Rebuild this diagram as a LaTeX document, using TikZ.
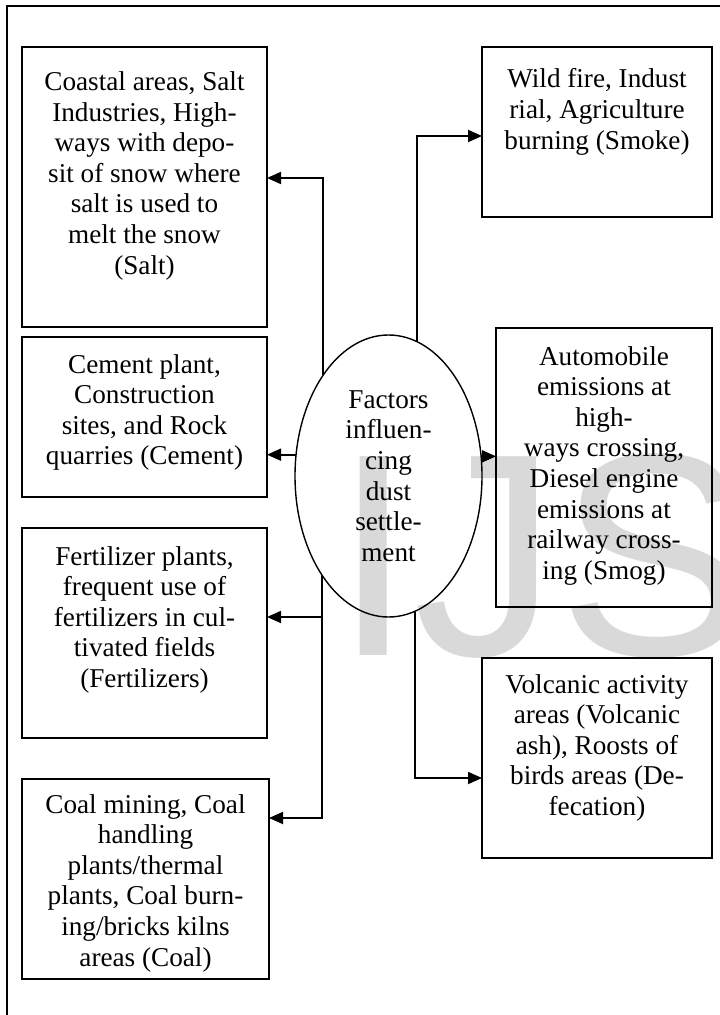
\documentclass[tikz,border=0pt]{standalone}
\usepackage{fontspec}
\setmainfont{Liberation Serif}
\newfontfamily\wmfont{Liberation Sans}
\usetikzlibrary{arrows.meta,shapes.geometric,calc}
\newcommand{\bx}[4]{\parbox[c][#2pt][t]{#1pt}{\centering\rule{0pt}{#3pt}#4}}
\tikzset{
  boxnode/.style={draw, line width=0.9pt, inner sep=0pt, outer sep=0pt},
  conn/.style={line width=0.9pt, -{Triangle[length=7pt,width=6pt]}},
  ellnode/.style={draw, ellipse, line width=0.7pt, inner sep=0pt, outer sep=0pt,
    minimum width=93.5pt, minimum height=141pt, align=center},
}
\begin{document}
\begin{tikzpicture}[x=0.5pt,y=-0.5pt]
\useasboundingbox (0,0) rectangle (719,1015);
\fontsize{13.6}{15.3}\selectfont
% watermark
\begin{scope}
\clip (0,0) rectangle (719,1015);
\node[anchor=base west, inner sep=0pt, text=black!15, font=\wmfont\fontsize{144.5}{150}\selectfont] (wm) at (333,655) {IJS};
\end{scope}
% outer frame
\draw[line width=1pt] (7,1020) -- (7,6) -- (725,6);
% boxes
\node[boxnode] (salt) at (144.5,187) {\bx{122.5}{140}{21.8}{Coastal areas, Salt\\Industries, High-\\ways with depo-\\sit of snow where\\salt is used to\\melt the snow\\(Salt)}};
\node[boxnode] (cement) at (144.5,417) {\bx{122.5}{80}{18}{Cement plant,\\Construction\\sites, and Rock\\quarries (Cement)}};
\node[boxnode] (fert) at (144.5,633) {\bx{122.5}{105}{18.5}{Fertilizer plants,\\frequent use of\\fertilizers in cul-\\tivated fields\\(Fertilizers)}};
\node[boxnode] (coal) at (145.5,879) {\bx{123.5}{100}{17}{Coal mining, Coal\\handling\\plants/thermal\\plants, Coal burn-\\ing/bricks kilns\\areas (Coal)}};
\node[boxnode] (smoke) at (597,132) {\bx{115}{85}{20.5}{Wild fire, Indust\\rial, Agriculture\\burning (Smoke)}};
\node[boxnode] (smog) at (604,467.5) {\bx{108}{139.5}{18.5}{Automobile\\emissions at\\high-\\ways crossing,\\Diesel engine\\emissions at\\railway cross-\\ing (Smog)}};
\node[boxnode] (volc) at (597,758) {\bx{115}{100}{17.5}{Volcanic activity\\areas (Volcanic\\ash), Roosts of\\birds areas (De-\\fecation)}};
% ellipse
\node[ellnode] (e) at (388.5,476) {Factors\\influen-\\cing\\dust\\settle-\\ment};
% connectors
\coordinate (sa) at ($(salt.east)+(0,-9)$);
\coordinate (fa) at ($(fert.east)+(0,-16)$);
\coordinate (ca) at ($(coal.east)+(0,-61)$);
\coordinate (ka) at ($(smoke.west)+(0,4)$);
\coordinate (va) at ($(volc.west)+(0,20)$);
\draw[conn] (e.123.07) |- (sa);
\draw[conn] (e.236.93) |- (ca);
\draw[conn] (e.236.93 |- fa) -- (fa);
\draw[conn] (e.167.81) -- (e.167.81 -| cement.east);
\draw[conn] (e.12.19) -- (e.12.19 -| smog.west);
\draw[conn] (e.78.91) |- (ka);
\draw[conn] (e.281.09) |- (va);
\end{tikzpicture}
\end{document}
